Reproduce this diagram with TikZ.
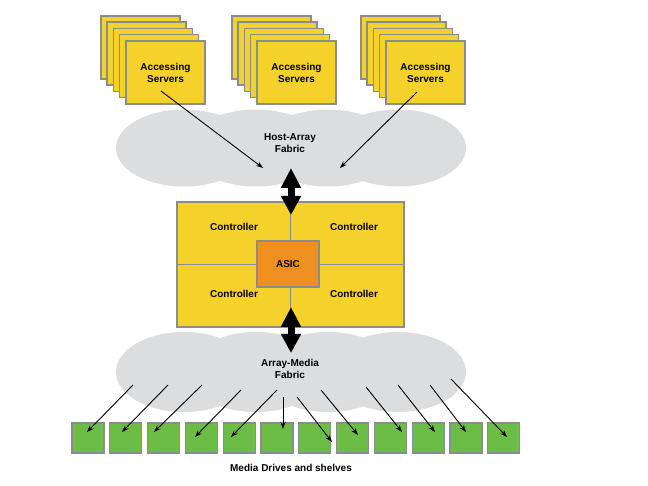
\documentclass[tikz,border=0pt]{standalone}
\usepackage{fontspec}
\setmainfont{Liberation Sans}
\usetikzlibrary{arrows.meta}
\definecolor{srvyellow}{HTML}{F4D22B}
\definecolor{cloudgray}{HTML}{DCDDDE}
\definecolor{asicorange}{HTML}{EE8F1F}
\definecolor{drivegreen}{HTML}{6CBD45}
\definecolor{edgegray}{HTML}{8C8C8C}
\begin{document}
\begin{tikzpicture}[x=1pt,y=-1pt,
  srv/.style={draw=edgegray, line width=1.5pt, fill=srvyellow},
  lbl/.style={font=\bfseries\fontsize{10}{12}\selectfont, align=center, inner sep=0pt},
  cloudpart/.style={fill=cloudgray},
  ctrlbox/.style={draw=edgegray, line width=1.5pt, fill=srvyellow, inner sep=0pt},
  divider/.style={draw=edgegray, line width=1.3pt},
  asicbox/.style={draw=edgegray, line width=1.5pt, fill=asicorange, inner sep=0pt, minimum width=62pt, minimum height=46pt, font=\bfseries\fontsize{10}{12}\selectfont},
  drivebox/.style={draw=edgegray, line width=1.2pt, fill=drivegreen, inner sep=0pt, minimum width=32pt, minimum height=30pt},
  thinarrow/.style={draw=black, line width=0.9pt, -{Stealth[length=7pt,width=5pt]}},
  dblarrow/.style={draw=black, line width=7pt, {Triangle[length=20pt,width=19pt]}-{Triangle[length=19pt,width=19pt]}}
]
\useasboundingbox[fill=white] (0,0) rectangle (648,486);

% server stacks
\foreach \s/\xf in {1/126, 2/257, 3/386} {
  \foreach \k in {4,3,2,1,0} {
    \draw[srv] (\xf-6.3*\k, 41-6.3*\k) rectangle ++(79,63);
  }
  \node[lbl] (srv\s) at (\xf+39.5, 73) {Accessing\\Servers};
}

% host-array cloud
\foreach \cx in {184,256,328,398} {
  \fill[cloudpart] (\cx,148) ellipse [x radius=68pt, y radius=38.5pt];
}
\node[lbl] (haf) at (290,143) {Host-Array\\Fabric};

% array-media cloud
\foreach \cx in {184,256,328,398} {
  \fill[cloudpart] (\cx,372) ellipse [x radius=68pt, y radius=40pt];
}
\node[lbl] (amf) at (290,369) {Array-Media\\Fabric};

% controller block
\node[ctrlbox, minimum width=227pt, minimum height=125pt] (ctrl) at (290.5,264.5) {};
\draw[divider] (ctrl.west) -- (ctrl.east);
\draw[divider] (ctrl.north) -- (ctrl.south);
\node[asicbox] (asic) at (288,264) {ASIC};
\node[lbl] (c1) at (234,227) {Controller};
\node[lbl] (c2) at (354,227) {Controller};
\node[lbl] (c3) at (234,294) {Controller};
\node[lbl] (c4) at (354,294) {Controller};

% server arrows
\coordinate (s1a) at (161,91);
\coordinate (s1b) at (263,168);
\coordinate (s3a) at (417,92);
\coordinate (s3b) at (340,168);
\draw[thinarrow] (s1a) -- (s1b);
\draw[thinarrow] (s3a) -- (s3b);

% double arrows
\coordinate (ua) at (291,168);
\coordinate (ub) at (291,215);
\coordinate (la) at (291,307);
\coordinate (lb) at (291,353);
\draw[dblarrow] (ua) -- (ub);
\draw[dblarrow] (la) -- (lb);

% drives
\foreach \i in {0,...,11} {
  \node[drivebox] (d\i) at (88+37.8*\i, 438) {};
}
\node[lbl] (mdl) at (291,468) {Media Drives and shelves};

% drive arrows
\foreach \n/\ax/\ay/\bx/\by in {
  0/133/385/87/432, 1/168/385/122/432, 2/202/385/154/432, 3/241/390/195/437,
  4/277/390/231/437, 5/283/397/283/429, 6/297/397/332/442, 7/321/390/358/435,
  8/366/387/402/432, 9/398/385/435/432, 10/430/385/466/432, 11/451/379/507/437} {
  \coordinate (da\n) at (\ax,\ay);
  \coordinate (db\n) at (\bx,\by);
  \draw[thinarrow] (da\n) -- (db\n);
}
\end{tikzpicture}
\end{document}
